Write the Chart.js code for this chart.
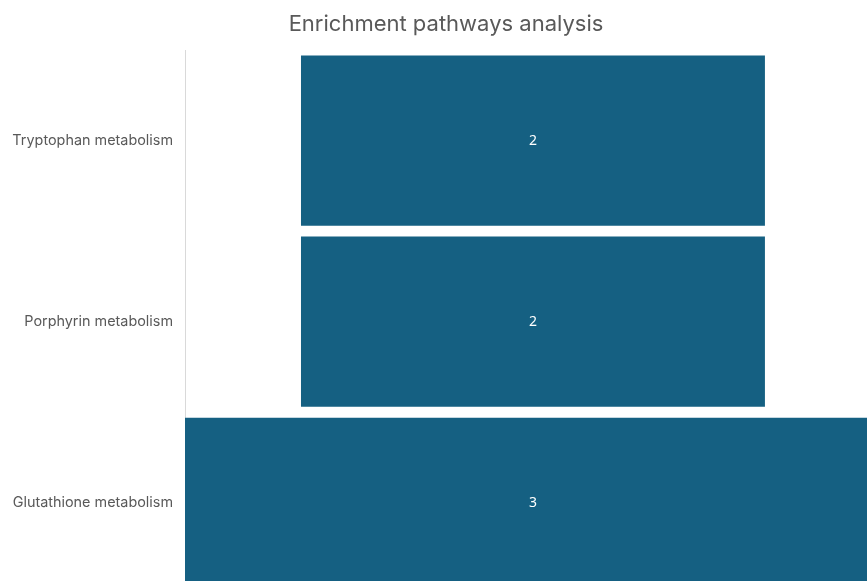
<!DOCTYPE html>
<html>
<head>
<meta charset="utf-8">
<script src="https://cdn.jsdelivr.net/npm/chart.js@4/dist/chart.umd.min.js"></script>
<style>
  html, body { margin: 0; padding: 0; background: #fff; overflow: hidden; }
  #wrap { width: 867px; height: 606px; position: relative; }
</style>
</head>
<body>
<div id="wrap"><canvas id="funnelChart"></canvas></div>
<script>
// DADOS DO GRÁFICO
const chartTitle = 'Enrichment pathways analysis';
const pathways = ['Tryptophan metabolism', 'Porphyrin metabolism', 'Glutathione metabolism'];
const counts = [2, 2, 3];

// funil: cada barra centrada em zero
const floating = counts.map(v => [-v / 2, v / 2]);

// título desenhado à mão (fica um pouco à direita do centro do canvas)
const titlePlugin = {
    id: 'titlePlugin',
    afterDraw(chart) {
        const { ctx } = chart;
        ctx.save();
        ctx.font = '22px Inter, sans-serif';
        ctx.fillStyle = '#595959';
        ctx.textAlign = 'center';
        ctx.textBaseline = 'middle';
        ctx.fillText(chartTitle, 446, 24);
        ctx.restore();
    }
};

// rótulos dentro das barras
const valueLabels = {
    id: 'valueLabels',
    afterDatasetsDraw(chart) {
        const { ctx } = chart;
        const meta = chart.getDatasetMeta(0);
        ctx.save();
        ctx.font = '14px "Noto Sans", sans-serif';
        ctx.fillStyle = '#ffffff';
        ctx.textAlign = 'center';
        ctx.textBaseline = 'middle';
        meta.data.forEach((bar, i) => {
            ctx.fillText(String(counts[i]), chart.scales.x.getPixelForValue(0), bar.y);
        });
        ctx.restore();
    }
};

const ctx = document.getElementById('funnelChart').getContext('2d');
new Chart(ctx, {
    type: 'bar',
    data: {
        labels: pathways,
        datasets: [{ data: floating, backgroundColor: '#156082', borderWidth: 0, barPercentage: 0.94, categoryPercentage: 1 }]
    },
    options: {
        indexAxis: 'y',
        responsive: true,
        maintainAspectRatio: false,
        animation: false,
        layout: { padding: { top: 50 } },
        plugins: {
            legend: { display: false },
            tooltip: { enabled: false },
            title: { display: false }
        },
        scales: {
            x: { display: false, min: -1.5, max: 1.44 },
            y: {
                grid: { display: false },
                border: { display: true, color: '#d9d9d9', width: 1 },
                ticks: { color: '#595959', font: { family: 'Inter', size: 14.4 }, padding: 4 },
                afterFit(scale) { scale.width = 185; }
            }
        }
    },
    plugins: [valueLabels, titlePlugin]
});
</script>
</body>
</html>
